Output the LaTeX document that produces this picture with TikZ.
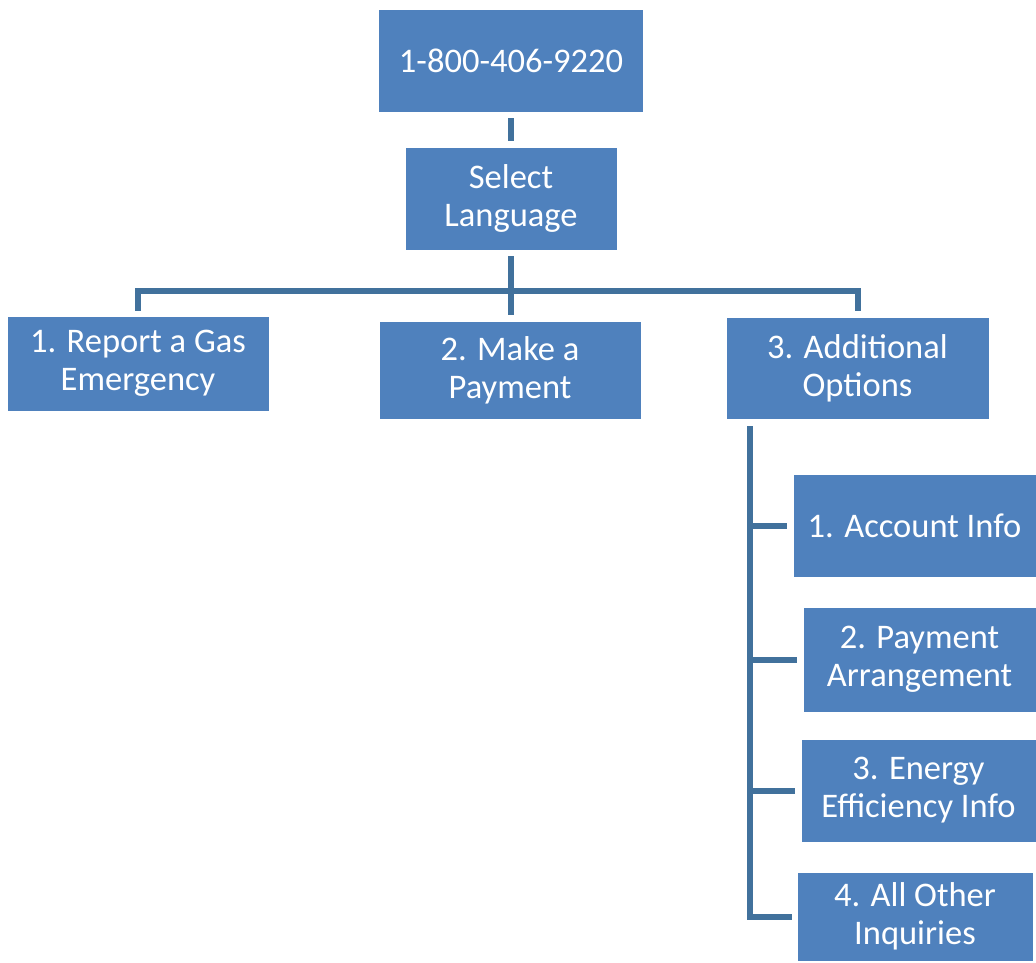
\documentclass[tikz,border=0pt]{standalone}
\usepackage{fontspec}
\setmainfont{Carlito}
\definecolor{boxblue}{HTML}{4F81BD}
\definecolor{lineblue}{HTML}{41719C}
\begin{document}
\begin{tikzpicture}[x=1pt,y=-1pt,
  box/.style={rectangle, fill=boxblue, draw=white, line width=0.8pt, text=white, align=center,
    font=\fontsize{34.5}{38}\selectfont, inner sep=0pt},
  conn/.style={draw=lineblue, line width=6pt}]
\useasboundingbox (0,0) rectangle (1036,963);
\node[box, minimum width=265, minimum height=103] (phone) at (511,60.5) {1-800-406-9220};
\node[box, minimum width=212, minimum height=103] (sel) at (511,198.5) {Select\\Language};
\node[box, minimum width=262, minimum height=95] (b1) at (138,363.5) {1. Report a Gas\\Emergency};
\node[box, minimum width=262, minimum height=98] (b2) at (510,370) {2. Make a\\Payment};
\node[box, minimum width=263, minimum height=102] (b3) at (857.5,368) {3. Additional\\Options};
\node[box, minimum width=243, minimum height=103] (s1) at (914.5,525.5) {1. Account Info};
\node[box, minimum width=233, minimum height=105] (s2) at (919.5,659.5) {2. Payment\\Arrangement};
\node[box, minimum width=235, minimum height=103] (s3) at (918.5,790.5) {3. Energy\\Efficiency Info};
\node[box, minimum width=236, minimum height=89] (s4) at (915,916.5) {4. All Other\\Inquiries};
\coordinate (bar) at (511,291);
\coordinate (vx) at (750,0);
\draw[conn] ([yshift=-6pt]phone.south) -- ([yshift=6pt]sel.north);
\draw[conn] ([yshift=-6pt]sel.south) -- ([yshift=6pt]sel.south |- b2.north);
\draw[conn] ([yshift=5pt]b1.north) -- (b1.north |- bar) -- (b3.north |- bar) -- ([yshift=6pt]b3.north);
\draw[conn] ([yshift=-7pt]b3.south -| vx) |- ([xshift=-5pt]s4.west);
\draw[conn] (s1.west -| vx) -- ([xshift=-6pt]s1.west);
\draw[conn] (s2.west -| vx) -- ([xshift=-6pt]s2.west);
\draw[conn] (s3.west -| vx) -- ([xshift=-6pt]s3.west);
\end{tikzpicture}
\end{document}
